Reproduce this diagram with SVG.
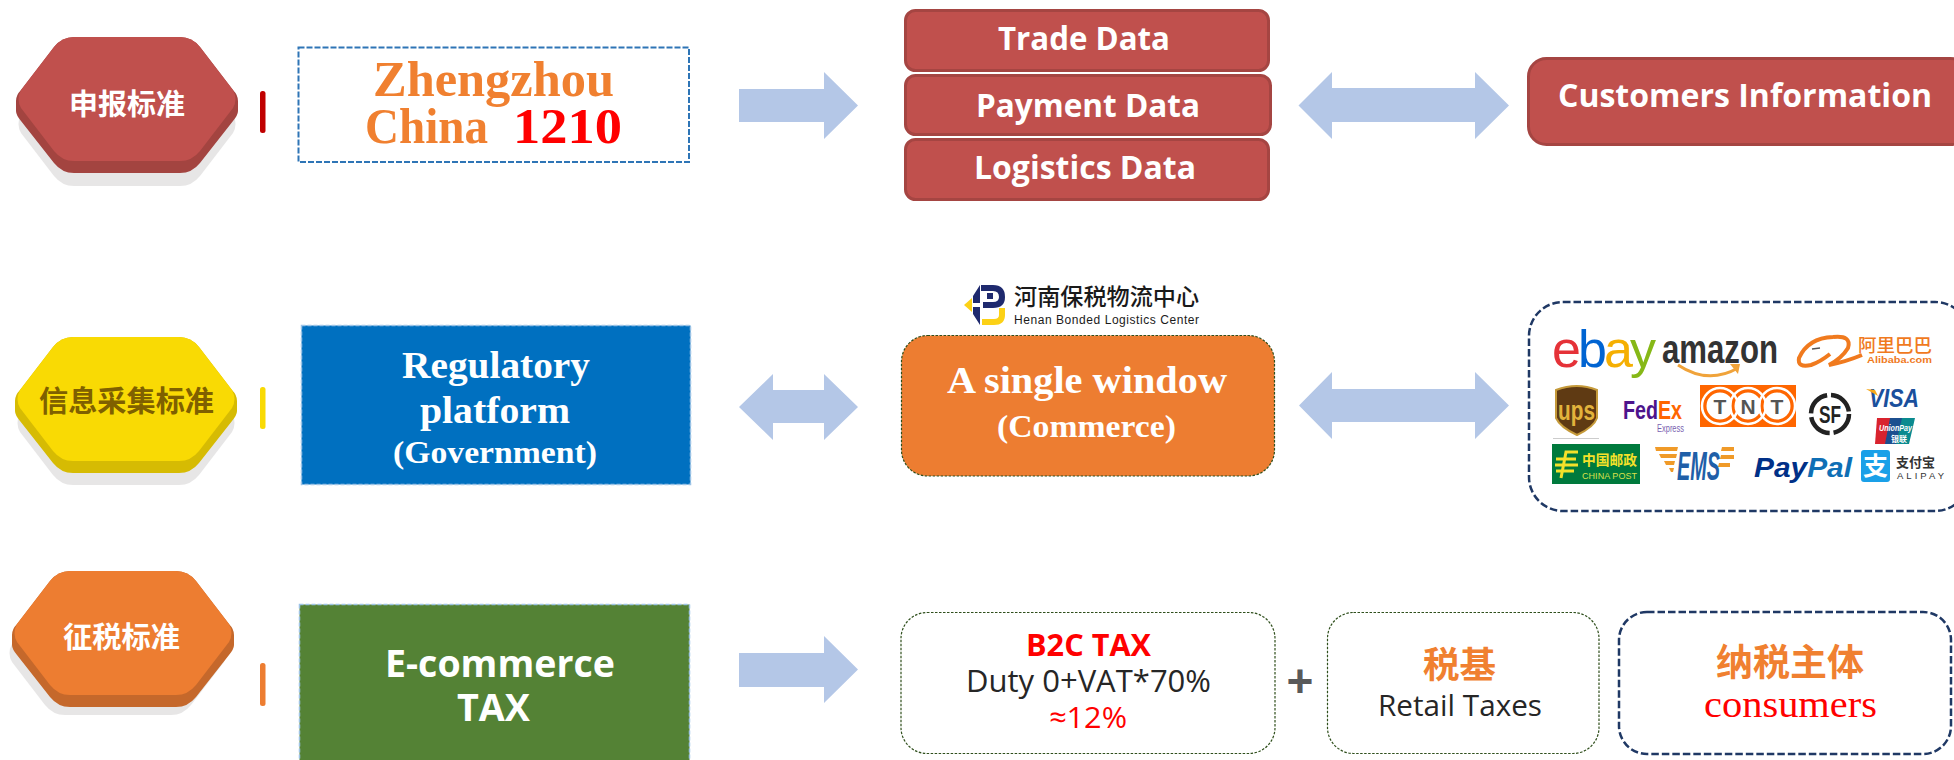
<svg xmlns="http://www.w3.org/2000/svg" width="1954" height="760" viewBox="0 0 1954 760">
<style>
text{white-space:pre}
.s{font-family:"Liberation Serif","Noto Sans CJK SC",serif;font-weight:700}
.o{font-family:"Open Sans","Noto Sans CJK SC",sans-serif;font-weight:700}
.n{font-family:"Open Sans","Noto Sans CJK SC",sans-serif;font-weight:400}
.c{font-family:"Noto Sans CJK SC",sans-serif;font-weight:700}
.l{font-family:"Liberation Sans","Noto Sans CJK SC",sans-serif;font-weight:700}
.w{fill:#fff}
.arrow{fill:#b4c7e7}
.redbox{fill:#c0504d;stroke:#a54542;stroke-width:3}
.thin{fill:#fff;stroke:#2f4f1c;stroke-width:1.200;stroke-dasharray:2.500 1.500}
.navy{fill:none;stroke:#1f3864;stroke-width:2.500;stroke-dasharray:7.500 3}
</style>
<defs>
<path id="hex" d="M58,0H164Q176,0 184,10L217,53Q222,62 217,71L184,114Q176,124 164,124H58Q46,124 38,114L5,71Q0,62 5,53L38,10Q46,0 58,0Z"/>
<path id="hexside" d="M58,0H164Q176,0 184,10L217,53Q222,58 222,64V74Q222,78 217,84L184,126Q176,136 164,136H58Q46,136 38,126L5,84Q0,78 0,74V64Q0,58 5,53L38,10Q46,0 58,0Z"/>
</defs>

<g id="connectors">
<path class="arrow" d="M739,89H824V72L858,105.500L824,139V122H739Z"/>
<path class="arrow" d="M1298.500,105.500L1332,72V88H1475V72L1509,105.500L1475,139V122H1332V139Z"/>
<path class="arrow" d="M739,407L773,374V390H824V374L858,407L824,440V423H773V440Z"/>
<path class="arrow" d="M1299,405.500L1332,372V389H1475V372L1509,405.500L1475,439V422H1332V439Z"/>
<path class="arrow" d="M739,653H824V636L858,669.500L824,703V687H739Z"/>
</g>

<g id="hex-red">
<use href="#hex" x="16" y="62" fill="#e7e6e6"/>
<use href="#hexside" x="16" y="37" fill="#a34440"/>
<use href="#hex" x="16" y="37" fill="#c0504d"/>
<text class="c w" x="69" y="115" font-size="29" textLength="116" lengthAdjust="spacingAndGlyphs">申报标准</text>
</g>
<rect id="bar-red" x="260" y="91" width="5.500" height="42" rx="2.500" fill="#c00000"/>
<g id="zhengzhou">
<rect x="298.500" y="47.500" width="390.500" height="114.500" fill="#fff" stroke="#2e75b6" stroke-width="2" stroke-dasharray="6 2"/>
<text class="s" x="373" y="96" font-size="50" fill="#f08030" textLength="241" lengthAdjust="spacingAndGlyphs">Zhengzhou</text>
<text class="s" x="365" y="143" font-size="50" fill="#f08030" textLength="123" lengthAdjust="spacingAndGlyphs">China</text>
<text class="s" x="513" y="143" font-size="50" fill="#ff0000" textLength="109" lengthAdjust="spacingAndGlyphs">1210</text>
</g>
<g id="trade-data">
<rect class="redbox" x="905.500" y="10.500" width="363" height="60" rx="10"/>
<text class="o w" x="998" y="50" font-size="32" textLength="172" lengthAdjust="spacingAndGlyphs">Trade Data</text>
</g>
<g id="payment-data">
<rect class="redbox" x="905.500" y="75.500" width="365" height="59" rx="10"/>
<text class="o w" x="976" y="117" font-size="32" textLength="224" lengthAdjust="spacingAndGlyphs">Payment Data</text>
</g>
<g id="logistics-data">
<rect class="redbox" x="905.500" y="139.500" width="363" height="60" rx="10"/>
<text class="o w" x="974" y="179" font-size="32" textLength="222" lengthAdjust="spacingAndGlyphs">Logistics Data</text>
</g>
<g id="customers">
<rect class="redbox" x="1528.500" y="58.500" width="440" height="86" rx="18"/>
<text class="o w" x="1558" y="107" font-size="32" textLength="374" lengthAdjust="spacingAndGlyphs">Customers Information</text>
</g>

<g id="hex-yellow">
<use href="#hex" x="15" y="361" fill="#e7e6e6"/>
<use href="#hexside" x="15" y="337" fill="#d6bb03"/>
<use href="#hex" x="15" y="337" fill="#f9da04"/>
<text class="c" x="39" y="412" font-size="29" fill="#7f6000" textLength="175" lengthAdjust="spacingAndGlyphs">信息采集标准</text>
</g>
<rect id="bar-yellow" x="260" y="387" width="5.500" height="42" rx="2.500" fill="#f9da04"/>
<g id="regulatory">
<rect x="301.500" y="325.500" width="389" height="159" fill="#0070c0" stroke="#9dc3e6" stroke-width="1.500" stroke-dasharray="4 2"/>
<text class="s w" x="402" y="378" font-size="38" textLength="188" lengthAdjust="spacingAndGlyphs">Regulatory</text>
<text class="s w" x="420" y="423" font-size="38" textLength="150" lengthAdjust="spacingAndGlyphs">platform</text>
<text class="s w" x="393" y="463" font-size="31" textLength="204" lengthAdjust="spacingAndGlyphs">(Government)</text>
</g>
<g id="henan-logo">
<path d="M964,305L972,298V312Z" fill="#fcd116"/>
<path d="M973,303V296L980,285V303ZM973,307V314L980,325V307Z" fill="#1f2a6e"/>
<path d="M981,288H993Q1002,288 1002,297Q1002,305 993,305H983M987,296H993" fill="none" stroke="#1f2a6e" stroke-width="6"/>
<path d="M982,322H994Q1002,322 1002,315V308" fill="none" stroke="#fcd116" stroke-width="6"/>
<text class="c" x="1014" y="305" font-size="23" style="font-weight:500" fill="#1a1a1a" textLength="185" lengthAdjust="spacingAndGlyphs">河南保税物流中心</text>
<text font-family="Liberation Sans,sans-serif" x="1014" y="324" font-size="12" fill="#1a1a1a" textLength="185">Henan Bonded Logistics Center</text>
</g>
<g id="single-window">
<rect x="901.500" y="335.500" width="373" height="140.500" rx="26" fill="#ed7d31" stroke="#2f4f1c" stroke-width="1.200" stroke-dasharray="2.500 1.500"/>
<text class="s w" x="947" y="393" font-size="38" textLength="280" lengthAdjust="spacingAndGlyphs">A single window</text>
<text class="s w" x="997" y="437" font-size="32" textLength="179" lengthAdjust="spacingAndGlyphs">(Commerce)</text>
</g>
<g id="logos">
<rect class="navy" x="1529" y="302" width="440" height="209" rx="34"/>
<text class="l" x="1552" y="367" font-size="52" style="font-weight:400" textLength="104"><tspan fill="#e53238">e</tspan><tspan fill="#0064d2">b</tspan><tspan fill="#f5af02">a</tspan><tspan fill="#86b817">y</tspan></text>
<text class="l" x="1662" y="363" font-size="40" fill="#333" textLength="116" lengthAdjust="spacingAndGlyphs">amazon</text>
<path d="M1678,365Q1708,385 1738,368" fill="none" stroke="#f0a33a" stroke-width="3"/>
<path d="M1730,364L1740,364L1738,374Z" fill="#f0a33a"/>
<path d="M1833,337Q1808,338 1799,358Q1797,368 1811,365Q1820,362 1830,354M1833,337Q1852,335 1848,348Q1842,358 1829,365Q1845,362 1862,355" fill="none" stroke="#f07a1e" stroke-width="4"/>
<path d="M1812,349L1820,348" fill="none" stroke="#555" stroke-width="1.500"/>
<text class="c" x="1858" y="352" font-size="18" fill="#f07a1e" style="font-weight:500" textLength="74" lengthAdjust="spacingAndGlyphs">阿里巴巴</text>
<text class="l" x="1867" y="363" font-size="9" fill="#f07a1e" textLength="65" lengthAdjust="spacingAndGlyphs">Alibaba.com</text>
<path d="M1556,390Q1577,382 1597,390V418Q1594,427 1577,435Q1560,427 1556,418Z" fill="#5f3a13" stroke="#c59a3a" stroke-width="2"/>
<text class="l" x="1558" y="420" font-size="28" fill="#e2b33c" textLength="37" lengthAdjust="spacingAndGlyphs">ups</text>
<path d="M1553,438.500H1599" stroke="#ccc" fill="none"/>
<text class="l" x="1623" y="419" font-size="26" textLength="59" lengthAdjust="spacingAndGlyphs"><tspan fill="#4d148c">Fed</tspan><tspan fill="#ff6600">Ex</tspan></text>
<text font-family="Liberation Sans,sans-serif" x="1657" y="432" font-size="10" fill="#7a5fb0" textLength="27" lengthAdjust="spacingAndGlyphs">Express</text>
<rect x="1700" y="385" width="96" height="42" fill="#ff6600"/>
<g fill="#fff" stroke="#ff6600" stroke-width="3"><circle cx="1720" cy="406" r="15"/><circle cx="1748" cy="406" r="15"/><circle cx="1777" cy="406" r="15"/></g>
<g fill="none" stroke="#fff" stroke-width="2.500"><circle cx="1720" cy="406" r="18"/><circle cx="1748" cy="406" r="18"/><circle cx="1777" cy="406" r="18"/></g>
<g class="l" font-size="21" fill="#555" text-anchor="middle"><text x="1720" y="414">T</text><text x="1748" y="414">N</text><text x="1777" y="414">T</text></g>
<circle cx="1830" cy="414" r="19" fill="none" stroke="#222" stroke-width="4.500" stroke-dasharray="26 4"/>
<text class="l" x="1819" y="423" font-size="23" fill="#222" textLength="22" lengthAdjust="spacingAndGlyphs">SF</text>
<text class="l" x="1869" y="407" font-size="25" font-style="italic" fill="#1a4f9c" textLength="50" lengthAdjust="spacingAndGlyphs">VISA</text>
<path d="M1866,389L1875,390L1878,396Z" fill="#f5a81c"/>
<path d="M1877,418H1895L1889,444H1875Z" fill="#d9232e"/>
<path d="M1890,418H1906L1900,444H1885Z" fill="#1c4f8f"/>
<path d="M1902,418H1915L1909,444H1896Z" fill="#0a8a8f"/>
<text class="l" x="1879" y="431" font-size="8.500" font-style="italic" fill="#fff" textLength="33" lengthAdjust="spacingAndGlyphs">UnionPay</text>
<text class="c" x="1891" y="442" font-size="8" fill="#fff">银联</text>
<rect x="1552" y="444" width="88" height="40" fill="#007a3d"/>
<path d="M1556,459H1576M1555,465H1578M1556,471H1574M1561,478L1566,452H1578" fill="none" stroke="#f4e12a" stroke-width="3"/>
<text class="c" x="1582" y="465" font-size="14" fill="#f4e12a" textLength="55" lengthAdjust="spacingAndGlyphs">中国邮政</text>
<text font-family="Liberation Sans,sans-serif" x="1582" y="479" font-size="9" fill="#d8e04a" textLength="55">CHINA POST</text>
<path d="M1655,447H1678L1677,451H1656ZM1659,454H1677L1676,458H1661ZM1664,461H1675L1674,465H1666ZM1669,468H1674L1673,472H1671Z" fill="#f09a28"/>
<path d="M1722,447H1734V451H1721ZM1721,455H1734V459H1720ZM1719,463H1730V467H1718Z" fill="#f09a28"/>
<text class="l" x="1677" y="480" font-size="40" font-style="italic" fill="#1f5fa8" textLength="43" lengthAdjust="spacingAndGlyphs">EMS</text>
<text class="l" x="1754" y="477" font-size="28" font-style="italic" textLength="98" lengthAdjust="spacingAndGlyphs"><tspan fill="#003087">Pay</tspan><tspan fill="#0f6fb5">Pal</tspan></text>
<rect x="1861" y="450" width="29" height="32" rx="3" fill="#1aa0e8"/>
<text class="c w" x="1863" y="475" font-size="25">支</text>
<text class="c" x="1896" y="467" font-size="13" fill="#333" textLength="39" lengthAdjust="spacingAndGlyphs">支付宝</text>
<text font-family="Liberation Sans,sans-serif" x="1897" y="479" font-size="9.500" fill="#333" textLength="47">ALIPAY</text>
</g>

<g id="hex-orange">
<use href="#hex" x="7" y="591" fill="#e7e6e6"/>
<use href="#hexside" x="12" y="571" fill="#c5682b"/>
<use href="#hex" x="12" y="571" fill="#ed7d31"/>
<text class="c w" x="63" y="648" font-size="29" textLength="117" lengthAdjust="spacingAndGlyphs">征税标准</text>
</g>
<rect id="bar-orange" x="260" y="663" width="5.500" height="43" rx="2.500" fill="#ed7d31"/>
<g id="ecommerce-tax">
<rect x="299.500" y="604.500" width="390" height="170" fill="#548235" stroke="#9dc3e6" stroke-width="1.500" stroke-dasharray="4 2"/>
<text class="o w" x="385" y="677" font-size="38" textLength="230" lengthAdjust="spacingAndGlyphs">E-commerce</text>
<text class="o w" x="457" y="721" font-size="38" textLength="73" lengthAdjust="spacingAndGlyphs">TAX</text>
</g>
<g id="b2c-tax">
<rect class="thin" x="901" y="612.500" width="374" height="141" rx="26"/>
<text class="o" x="1026" y="656" font-size="30" fill="#ff0000" textLength="125" lengthAdjust="spacingAndGlyphs">B2C TAX</text>
<text class="n" x="966" y="692" font-size="31" fill="#262626" textLength="245" lengthAdjust="spacingAndGlyphs">Duty 0+VAT*70%</text>
<text class="n" x="1049" y="728" font-size="30" fill="#ff0000" textLength="78" lengthAdjust="spacingAndGlyphs">≈12%</text>
</g>
<text id="plus" class="l" x="1300" y="697" font-size="46" fill="#595959" text-anchor="middle">+</text>
<g id="retail-taxes">
<rect class="thin" x="1327.500" y="612.500" width="271.500" height="141" rx="26"/>
<text class="c" x="1423" y="678" font-size="36" fill="#f08030" textLength="73" lengthAdjust="spacingAndGlyphs">税基</text>
<text class="n" x="1378" y="716" font-size="29" fill="#262626" textLength="164" lengthAdjust="spacingAndGlyphs">Retail Taxes</text>
</g>
<g id="consumers">
<rect class="navy" x="1619" y="612" width="332" height="142" rx="28"/>
<text class="c" x="1716" y="676" font-size="37" fill="#f08030" textLength="148" lengthAdjust="spacingAndGlyphs">纳税主体</text>
<text x="1704" y="717" font-family="Liberation Serif,serif" font-size="37" fill="#ff0000" textLength="173" lengthAdjust="spacingAndGlyphs">consumers</text>
</g>
</svg>
